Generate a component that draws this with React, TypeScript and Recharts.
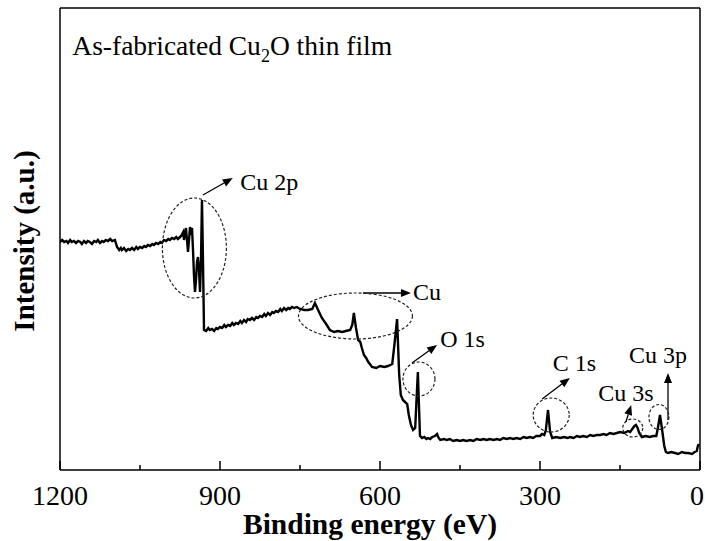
import { LineChart, Line, XAxis, YAxis, ReferenceDot, ReferenceLine, Label } from 'recharts';

// XPS survey: binding energy (eV) and intensity (a.u.)
const energy = [
  1200, 1196, 1192, 1188, 1185, 1181, 1178, 1174, 1170, 1166,
  1162, 1159, 1155, 1151, 1148, 1144, 1140, 1136, 1132, 1129,
  1125, 1121, 1118, 1114, 1110, 1106, 1102, 1097, 1093, 1089,
  1086, 1084, 1080, 1076, 1072, 1069, 1065, 1061, 1057, 1054,
  1050, 1046, 1042, 1039, 1035, 1031, 1027, 1024, 1020, 1016,
  1012, 1009, 1005, 1001, 997, 994, 990, 986, 982, 979,
  975, 973, 969, 967.5, 965.6, 963.8, 961.9, 960, 958.1, 956.3,
  954.4, 952.5, 950.6, 948.8, 946.9, 945, 943.1, 941.3, 939.4, 937.5,
  935.6, 933.8, 931.9, 930, 926, 922, 919, 915, 911, 907,
  904, 900, 896, 892, 889, 885, 881, 877, 874, 870,
  866, 862, 859, 855, 851, 848, 844, 840, 836, 832,
  829, 825, 821, 817, 814, 810, 806, 802, 799, 795,
  791, 787, 784, 780, 776, 772, 769, 765, 761, 756,
  750, 742, 735, 727, 722, 716, 709, 701, 694, 686,
  679, 671, 664, 656, 652, 649, 645, 641, 637, 634,
  630, 626, 622, 619, 615, 607, 600, 592, 585, 577,
  572, 568, 564, 561, 557, 553, 549, 546, 542, 538,
  534, 532, 529, 527, 525, 521, 517, 513, 510, 506,
  502, 497, 493, 490, 487, 480, 475, 469, 463, 456,
  450, 444, 438, 431, 425, 419, 412, 406, 400, 394,
  387, 381, 375, 369, 362, 356, 350, 344, 337, 331,
  325, 319, 313, 307, 300, 296, 292, 289, 285, 281,
  277, 270, 262, 255, 248, 244, 237, 231, 225, 219,
  212, 206, 200, 194, 187, 181, 175, 169, 162, 156,
  150, 142, 135, 131, 127, 123, 120, 117, 114, 109,
  102, 94, 88, 82, 79, 75, 71, 67, 64, 60,
  54, 47, 41, 34, 28, 22, 15, 10, 6, 4,
  2,
];

const intensity = [
  228, 230, 228, 229, 227, 230, 228, 229, 227, 229,
  228, 226, 229, 227, 229, 228, 226, 229, 228, 230,
  227, 229, 228, 230, 229, 231, 229, 230, 223, 220,
  222, 220, 222, 219, 221, 220, 222, 220, 223, 221,
  223, 222, 224, 223, 225, 224, 226, 225, 227, 226,
  228, 227, 230, 229, 231, 230, 232, 231, 233, 231,
  233, 234, 238, 230, 237, 242, 230, 218, 230, 243,
  239, 242, 220, 195, 178, 190, 208, 213, 200, 178,
  210, 270, 210, 140, 139, 142, 140, 141, 139, 142,
  141, 143, 142, 145, 143, 145, 144, 147, 145, 147,
  146, 149, 147, 150, 148, 151, 150, 152, 150, 153,
  152, 154, 153, 156, 154, 157, 155, 158, 157, 159,
  158, 161, 159, 162, 160, 162, 161, 163, 162, 163,
  161, 160, 160, 161, 167, 160, 152, 146, 140, 138,
  139, 138, 139, 140, 145, 157, 142, 130, 128, 122,
  115, 112, 108, 106, 103, 102, 104, 103, 104, 106,
  130, 151, 95, 75, 70, 68, 66, 55, 45, 40,
  42, 65, 98, 65, 34, 32, 33, 31, 32, 31,
  33, 34, 36, 32, 30, 31, 30, 31, 29, 30,
  29, 30, 29, 30, 29, 31, 30, 31, 30, 31,
  30, 31, 30, 32, 31, 32, 31, 32, 31, 33,
  32, 33, 32, 34, 34, 36, 35, 40, 60, 38,
  32, 33, 32, 33, 32, 33, 32, 34, 33, 34,
  33, 35, 34, 35, 35, 36, 35, 37, 36, 37,
  38, 37, 39, 38, 41, 44, 45, 42, 37, 33,
  34, 33, 34, 34, 42, 55, 40, 24, 18, 17,
  18, 17, 16, 18, 17, 17, 16, 18, 19, 24,
  26,
];

const xTicks = [1200, 1050, 900, 750, 600, 450, 300, 150, 0];
const majorTicks = [1200, 900, 600, 300, 0];

const data = energy.map((e, i) => ({ e, v: intensity[i] }));

const FONT = '"Liberation Serif", "Times New Roman", serif';

function EnergyTick(props: any) {
  const { x, y, payload } = props;
  const major = majorTicks.includes(payload.value);
  const last = payload.value === 0;
  return (
    <g>
      <line x1={x} y1={y} x2={x} y2={y - (major ? 9 : 5)} stroke="#000" strokeWidth={1.5} />
      {major && (
        <text
          x={last ? x + 4 : x}
          y={y + 35}
          textAnchor={last ? 'end' : 'middle'}
          fontFamily={FONT}
          fontSize={28}
          fill="#000"
        >
          {payload.value}
        </text>
      )}
    </g>
  );
}

// dashed ring round a peak
const ring = (rx: number, ry: number) => (p: any) => (
  <ellipse cx={p.cx} cy={p.cy} rx={rx} ry={ry} fill="none" stroke="#222" strokeWidth={1.2} strokeDasharray="3 2" />
);

const tag = (text: string, size = 24) => (p: any) => (
  <text x={p.cx} y={p.cy} fontFamily={FONT} fontSize={size} fill="#000">{text}</text>
);

function Arrow(p: any) {
  const { x1, y1, x2, y2 } = p;
  const ang = Math.atan2(y2 - y1, x2 - x1);
  const len = 10;
  const w = 4;
  const bx = x2 - len * Math.cos(ang);
  const by = y2 - len * Math.sin(ang);
  const nx = -Math.sin(ang) * w;
  const ny = Math.cos(ang) * w;
  return (
    <g>
      <line x1={x1} y1={y1} x2={bx} y2={by} stroke="#000" strokeWidth={1.3} />
      <polygon points={`${x2},${y2} ${bx + nx},${by + ny} ${bx - nx},${by - ny}`} fill="#000" />
    </g>
  );
}

const frame = { stroke: '#000', strokeWidth: 1.5 };

export default function App() {
  return (
    <div style={{ position: 'absolute', left: 0, top: 0, width: 705, height: 541, background: '#fff' }}>
      <LineChart width={705} height={541} data={data} margin={{ top: 7, right: 4, bottom: 31, left: 59 }}>
        <XAxis
          dataKey="e"
          type="number"
          domain={[0, 1200]}
          reversed
          allowDataOverflow
          ticks={xTicks}
          interval={0}
          height={40}
          tickSize={0}
          tickMargin={0}
          tickLine={false}
          tick={<EnergyTick />}
          axisLine={frame}
        >
          <Label
            content={(p: any) => (
              <text
                x={p.viewBox.x + p.viewBox.width / 2 - 10}
                y={p.viewBox.y + 64}
                textAnchor="middle"
                fontFamily={FONT}
                fontWeight="bold"
                fontSize={29.5}
                fill="#000"
              >
                Binding energy (eV)
              </text>
            )}
          />
        </XAxis>
        <XAxis xAxisId="top" orientation="top" type="number" domain={[0, 1200]} reversed height={1} tick={false} tickLine={false} axisLine={frame} />
        <YAxis yAxisId="left" type="number" domain={[0, 462]} width={1} tick={false} tickLine={false} axisLine={frame}>
          <Label
            content={(p: any) => {
              const cx = 24;
              const cy = p.viewBox.y + p.viewBox.height / 2 + 2;
              return (
                <text
                  x={cx}
                  y={cy}
                  transform={`rotate(-90 ${cx} ${cy})`}
                  textAnchor="middle"
                  dominantBaseline="central"
                  fontFamily={FONT}
                  fontWeight="bold"
                  fontSize={29}
                  fill="#000"
                >
                  Intensity (a.u.)
                </text>
              );
            }}
          />
        </YAxis>
        <YAxis yAxisId="right" orientation="right" type="number" domain={[0, 462]} width={1} tick={false} tickLine={false} axisLine={frame} />

        <Line yAxisId="left" type="linear" dataKey="v" stroke="#000" strokeWidth={2.4} dot={false} isAnimationActive={false} />

        {/* dashed rings */}
        <ReferenceDot yAxisId="left" x={948} y={222} ifOverflow="visible" shape={ring(32, 50)} />
        <ReferenceDot yAxisId="left" x={646} y={154} ifOverflow="visible" shape={ring(57, 23)} />
        <ReferenceDot yAxisId="left" x={527} y={91} ifOverflow="visible" shape={ring(16, 17)} />
        <ReferenceDot yAxisId="left" x={279} y={55} ifOverflow="visible" shape={ring(18, 17)} />
        <ReferenceDot yAxisId="left" x={126} y={42} ifOverflow="visible" shape={ring(10, 9)} />
        <ReferenceDot yAxisId="left" x={77} y={53} ifOverflow="visible" shape={ring(10, 12.5)} />

        {/* arrows */}
        <ReferenceLine yAxisId="left" ifOverflow="visible" segment={[{ x: 932, y: 275 }, { x: 876, y: 292 }]} shape={Arrow} />
        <ReferenceLine yAxisId="left" ifOverflow="visible" segment={[{ x: 632, y: 177 }, { x: 542, y: 177 }]} shape={Arrow} />
        <ReferenceLine yAxisId="left" ifOverflow="visible" segment={[{ x: 540, y: 107 }, { x: 493, y: 125 }]} shape={Arrow} />
        <ReferenceLine yAxisId="left" ifOverflow="visible" segment={[{ x: 296, y: 71 }, { x: 244, y: 92 }]} shape={Arrow} />
        <ReferenceLine yAxisId="left" ifOverflow="visible" segment={[{ x: 139, y: 48 }, { x: 129, y: 65 }]} shape={Arrow} />
        <ReferenceLine yAxisId="left" ifOverflow="visible" segment={[{ x: 60, y: 50 }, { x: 60, y: 97 }]} shape={Arrow} />

        {/* peak names */}
        <ReferenceDot yAxisId="left" x={862} y={280} ifOverflow="visible" shape={tag('Cu 2p')} />
        <ReferenceDot yAxisId="left" x={538} y={170} ifOverflow="visible" shape={tag('Cu')} />
        <ReferenceDot yAxisId="left" x={487} y={123} ifOverflow="visible" shape={tag('O 1s')} />
        <ReferenceDot yAxisId="left" x={276} y={99} ifOverflow="visible" shape={tag('C 1s')} />
        <ReferenceDot yAxisId="left" x={191} y={69} ifOverflow="visible" shape={tag('Cu 3s')} />
        <ReferenceDot yAxisId="left" x={133} y={107} ifOverflow="visible" shape={tag('Cu 3p')} />

        {/* sample name */}
        <ReferenceDot
          yAxisId="left"
          x={1177}
          y={415}
          ifOverflow="visible"
          shape={(p: any) => (
            <text x={p.cx} y={p.cy} fontFamily={FONT} fontSize={27.5} fill="#000">
              As-fabricated Cu<tspan dy={7} fontSize={18}>2</tspan>
              <tspan dy={-7}>O thin film</tspan>
            </text>
          )}
        />
      </LineChart>
    </div>
  );
}
